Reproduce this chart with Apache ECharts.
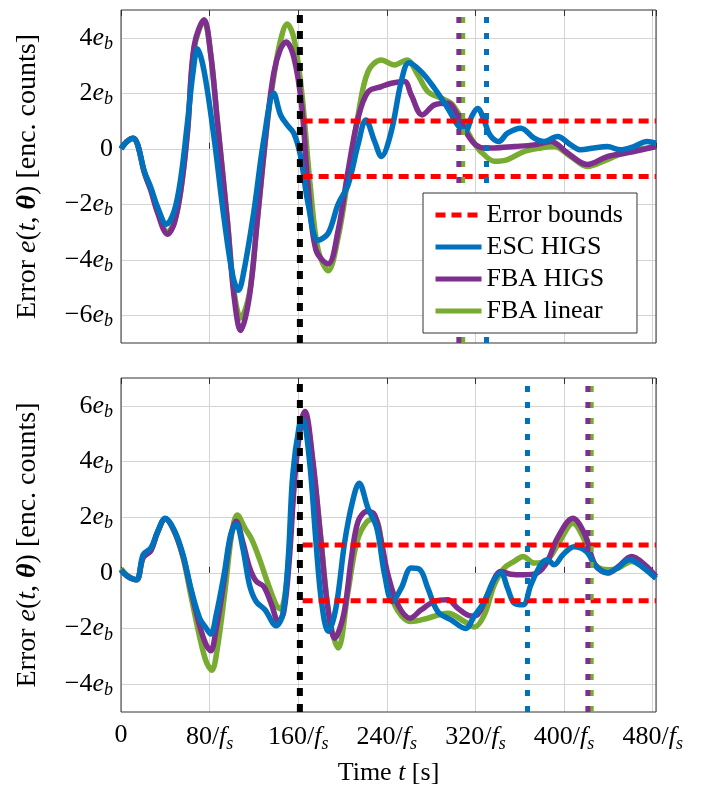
<!DOCTYPE html>
<html>
<head>
<meta charset="utf-8">
<script src="https://cdn.jsdelivr.net/npm/echarts@6/dist/echarts.min.js"></script>
<style>
  html, body { margin: 0; padding: 0; background: #fff; }
  #chart { width: 706px; height: 789px; }
</style>
</head>
<body>
<div id="chart"></div>
<script>
// x ticks (multiples of 80 samples), y ticks in units of e_b
var xTicks = [0, 80, 160, 240, 320, 400, 480];
var topYTicks = [-6, -4, -2, 0, 2, 4];
var bottomYTicks = [-4, -2, 0, 2, 4, 6];

// top panel: [t, error]
var topEsc = [[0,0],[5,0.25],[11,0.38],[15,0.15],[21,-0.8],[27,-1.4],[33,-2.1],[41,-2.72],[48,-2.25],[54,-1.05],[60,0.95],[65,2.75],[69,3.6],[75,2.8],[84,0.4],[93,-2.5],[101,-4.6],[106,-5.1],[111,-4.4],[120,-2.25],[129,0.35],[138,2.0],[144,1.22],[150,0.86],[156,0.56],[162,-0.25],[169,-2.0],[178,-3.3],[187,-3.05],[196,-2.0],[205,-1.3],[214,0.15],[221,1.04],[229,0.26],[235,-0.28],[244,0.62],[253,2.42],[260,3.1],[271,2.78],[283,2.18],[295,1.46],[305,0.8],[311,0.65],[317,1.2],[322,1.45],[328,1.0],[333,0.5],[341,0.26],[349,0.56],[361,0.74],[373,0.38],[382,0.26],[394,0.44],[406,0.14],[415,-0.04],[427,0.03],[439,0.08],[451,-0.04],[463,0.08],[475,0.26],[483,0.2]];
var topFbaHigs = [[0,0],[5,0.25],[11,0.38],[15,0.15],[21,-0.85],[27,-1.5],[33,-2.3],[42,-3.08],[48,-2.7],[54,-1.5],[60,0.6],[66,3.7],[75,4.65],[81,3.4],[87,1.0],[96,-2.6],[102,-5.3],[108,-6.55],[116,-5.3],[123,-2.6],[132,0.95],[138,2.75],[144,3.6],[149,3.85],[156,3.3],[163,1.6],[169,-1.4],[176,-3.65],[187,-4.15],[196,-2.95],[205,-0.8],[214,1.1],[223,2.05],[235,2.24],[244,2.36],[256,2.42],[262,1.94],[272,1.22],[283,1.58],[295,1.64],[304,1.2],[313,0.5],[320,0.15],[328,0.03],[337,0.03],[355,0.08],[373,0.14],[388,0.26],[403,-0.15],[421,-0.57],[439,-0.28],[457,-0.15],[483,0.08]];
var topFbaLinear = [[0,0],[5,0.25],[11,0.38],[15,0.15],[21,-0.85],[27,-1.5],[33,-2.25],[42,-3.0],[48,-2.65],[54,-1.5],[60,0.6],[66,3.6],[75,4.6],[81,3.4],[87,1.0],[96,-2.55],[102,-5.1],[108,-6.1],[116,-5.2],[123,-2.6],[132,0.9],[138,2.6],[144,3.9],[150,4.5],[156,4.0],[163,2.1],[171,-1.4],[178,-3.65],[187,-4.4],[196,-3.2],[205,-1.05],[214,1.2],[223,2.78],[235,3.2],[247,3.02],[258,3.2],[268,2.66],[277,2.06],[289,1.82],[298,1.64],[307,1.1],[316,0.38],[322,0.03],[326,-0.15],[337,-0.45],[349,-0.39],[364,-0.1],[379,0.03],[391,0.08],[406,-0.28],[421,-0.64],[439,-0.39],[454,-0.15],[483,0.08]];

// bottom panel: [t, error]
var bottomEsc = [[0,0.1],[6,-0.13],[14,-0.25],[20,0.65],[27,0.89],[33,1.48],[40,1.96],[48,1.54],[56,0.65],[63,-0.55],[71,-1.63],[77,-2.0],[81,-2.2],[86,-1.5],[93,-0.07],[99,1.36],[104,1.75],[110,0.89],[116,-0.43],[122,-1.03],[130,-1.33],[140,-1.9],[146,-1.5],[151,0.53],[155,3.5],[161,5.3],[164,5.5],[170,4.1],[176,1.12],[181,-1.03],[187,-2.1],[194,-1.27],[202,1.12],[209,2.56],[215,3.22],[223,2.32],[231,1.6],[238,-0.07],[245,-1.03],[253,-0.55],[262,0.17],[270,0.11],[277,-0.55],[286,-1.39],[298,-1.69],[311,-2.0],[319,-1.55],[328,-1.03],[336,-0.31],[343,0],[349,-0.55],[355,-1.09],[363,-1.15],[370,-0.43],[379,0.29],[385,0.47],[391,0.29],[399,0.65],[409,0.94],[420,0.77],[429,0.23],[439,0],[448,0.17],[459,0.47],[470,0.23],[483,-0.2]];
var bottomFbaHigs = [[0,0.1],[6,-0.13],[14,-0.25],[20,0.55],[27,0.8],[33,1.45],[40,1.94],[48,1.5],[56,0.6],[63,-0.6],[71,-1.9],[77,-2.6],[81,-2.8],[86,-2.0],[93,-0.3],[99,1.3],[104,1.85],[110,1.1],[116,0.2],[122,-0.3],[129,-0.5],[136,-1.15],[142,-1.75],[147,-1.4],[152,0.5],[157,3.5],[163,5.5],[166,5.8],[173,4.1],[180,1.36],[186,-1.03],[193,-2.35],[201,-1.51],[208,0.53],[214,1.84],[222,2.2],[229,2.08],[235,1.12],[241,-0.07],[250,-1.15],[261,-1.63],[271,-1.33],[283,-1.03],[295,-0.97],[304,-1.27],[316,-1.55],[322,-1.5],[331,-0.79],[343,0.05],[352,-0.05],[364,-0.07],[376,0],[385,0.41],[394,1.25],[408,1.96],[419,1.36],[428,0.29],[440,-0.01],[449,0.23],[461,0.59],[473,0.29],[483,-0.13]];
var bottomFbaLinear = [[0,0.15],[6,-0.1],[14,-0.25],[20,0.55],[27,0.8],[33,1.45],[40,1.94],[48,1.5],[56,0.55],[63,-0.8],[71,-2.3],[77,-3.2],[82,-3.5],[87,-2.7],[94,-0.6],[100,1.4],[105,2.08],[112,1.6],[118,1.2],[125,0.5],[132,-0.31],[140,-1.15],[144,-1.3],[149,-0.5],[154,2.0],[159,4.5],[163,5.4],[166,5.6],[173,4.0],[181,1.0],[188,-1.6],[196,-2.7],[205,-0.67],[213,1.12],[222,1.84],[229,1.95],[238,0.4],[247,-1.15],[262,-1.75],[277,-1.63],[295,-1.45],[310,-1.75],[319,-1.95],[328,-1.51],[337,-0.43],[346,0.17],[355,0.41],[363,0.59],[373,0.35],[385,0.47],[396,1.13],[408,1.78],[419,1.13],[428,0.29],[440,0.11],[449,0.17],[461,0.41],[473,0.17],[483,-0.13]];

// error bounds (+-e_b) from where they start to the end
var boundStart = 164;
var boundEnd = 483;
var boundLevels = [1, -1];

// vertical dotted markers (settling instants)
var topMarkers = { black: 161.5, fbaHigs: 305, fbaLinear: 308.5, esc: 330 };
var bottomMarkers = { black: 161.5, esc: 367, fbaHigs: 421.5, fbaLinear: 424.5 };

var topRange = [-7, 5];
var bottomRange = [-5, 7];
var xMax = 483;

var BLUE = '#0072BD', PURPLE = '#7E2F8E', GREEN = '#77AC30', RED = '#FF0000';
var FONT = 'Liberation Serif';

var chart = echarts.init(document.getElementById('chart'));

var rich = {
    n: { fontFamily: FONT, fontSize: 26, color: '#000' },
    e: { fontFamily: FONT, fontSize: 26, fontStyle: 'italic', color: '#000' },
    s: { fontFamily: FONT, fontSize: 18, fontStyle: 'italic', color: '#000', padding: [13, 0, 0, 0] }
};

function yLabel(v) {
    if (v === 0) return '{n|0}';
    if (v % 2 !== 0) return '';
    return '{n|' + (v < 0 ? '\u2212' : '') + Math.abs(v) + '}{e|e}{s|b}';
}
function xLabel(v) {
    if (v === 0) return '{n|0}';
    if (xTicks.indexOf(v) < 0) return '';
    return '{n|' + v + '/}{e|f}{s|s}';
}

function yAxisCfg(gi, range) {
    return {
        type: 'value', gridIndex: gi, min: range[0], max: range[1], interval: 1,
        axisLine: { show: false },
        axisTick: { show: false },
        splitLine: { show: true, lineStyle: { color: ['rgba(0,0,0,0)', '#d4d4d4'], width: 1 } },
        axisLabel: { formatter: yLabel, rich: rich, margin: 8 },
        name: 'Error {i|e}({i|t}, {b|\u03b8}) [enc. counts]',
        nameLocation: 'middle',
        nameGap: 79,
        nameTextStyle: {
            fontFamily: FONT, fontSize: 28, color: '#000',
            rich: {
                i: { fontFamily: FONT, fontSize: 28, fontStyle: 'italic', color: '#000' },
                b: { fontFamily: FONT, fontSize: 28, fontStyle: 'italic', fontWeight: 'bold', color: '#000' }
            }
        }
    };
}

function xAxisCfg(gi, labels, top) {
    var cfg = {
        type: 'value', gridIndex: gi, min: 0, max: xMax, interval: 80,
        position: top ? 'top' : 'bottom',
        axisLine: { show: false },
        axisTick: { show: true, inside: true, length: 6, lineStyle: { color: '#333' } },
        splitLine: { show: !top, lineStyle: { color: '#d4d4d4', width: 1 } },
        axisLabel: { show: labels, formatter: xLabel, rich: rich, margin: 10, showMaxLabel: false }
    };
    if (labels) {
        cfg.name = 'Time {i|t} [s]';
        cfg.nameLocation = 'middle';
        cfg.nameGap = 48;
        cfg.nameTextStyle = {
            fontFamily: FONT, fontSize: 26, color: '#000',
            rich: { i: { fontFamily: FONT, fontSize: 26, fontStyle: 'italic', color: '#000' } }
        };
    }
    return cfg;
}

function curve(name, data, color, ai) {
    return {
        name: name, type: 'line', xAxisIndex: ai, yAxisIndex: ai,
        data: data, smooth: 0.35, symbol: 'none', silent: true,
        lineStyle: { color: color, width: 5.5 }, itemStyle: { color: color }
    };
}

function bounds(ai) {
    return boundLevels.map(function (lvl) {
        return {
            name: 'Error bounds', type: 'line', xAxisIndex: ai, yAxisIndex: ai,
            data: [[boundStart, lvl], [boundEnd, lvl]], symbol: 'none', silent: true,
            lineStyle: { color: RED, width: 5, type: [10, 6] }, itemStyle: { color: RED }
        };
    });
}

function vline(t, range, color, width, dash, ai) {
    return {
        name: 'marker', type: 'line', xAxisIndex: ai, yAxisIndex: ai,
        data: [[t, range[0]], [t, range[1]]], symbol: 'none', silent: true,
        lineStyle: { color: color, width: width, type: dash }
    };
}

var series = [
    curve('FBA linear', topFbaLinear, GREEN, 0),
    curve('FBA HIGS', topFbaHigs, PURPLE, 0),
    curve('ESC HIGS', topEsc, BLUE, 0),
    curve('FBA linear', bottomFbaLinear, GREEN, 1),
    curve('FBA HIGS', bottomFbaHigs, PURPLE, 1),
    curve('ESC HIGS', bottomEsc, BLUE, 1)
].concat(bounds(0), bounds(1), [
    vline(topMarkers.black, topRange, '#000', 6, [8, 8], 0),
    vline(topMarkers.fbaLinear, topRange, GREEN, 5, [6, 10], 0),
    vline(topMarkers.fbaHigs, topRange, PURPLE, 5, [6, 10], 0),
    vline(topMarkers.esc, topRange, BLUE, 5, [6, 10], 0),
    vline(bottomMarkers.black, bottomRange, '#000', 6, [8, 8], 1),
    vline(bottomMarkers.esc, bottomRange, BLUE, 5, [6, 10], 1),
    vline(bottomMarkers.fbaLinear, bottomRange, GREEN, 5, [6, 10], 1),
    vline(bottomMarkers.fbaHigs, bottomRange, PURPLE, 5, [6, 10], 1)
]);

var option = {
    animation: false,
    backgroundColor: '#fff',
    grid: [
        { left: 121, top: 10, width: 535, height: 333, show: true, borderColor: '#333', borderWidth: 1, backgroundColor: 'transparent', z: 3, outerBoundsMode: 'none' },
        { left: 121, top: 378, width: 535, height: 334, show: true, borderColor: '#333', borderWidth: 1, backgroundColor: 'transparent', z: 3, outerBoundsMode: 'none' }
    ],
    xAxis: [xAxisCfg(0, false, false), xAxisCfg(1, true, false), xAxisCfg(0, false, true), xAxisCfg(1, false, true)],
    yAxis: [yAxisCfg(0, topRange), yAxisCfg(1, bottomRange)],
    legend: {
        data: ['Error bounds', 'ESC HIGS', 'FBA HIGS', 'FBA linear'],
        orient: 'vertical',
        left: 423, top: 193,
        backgroundColor: '#fff',
        borderColor: '#333', borderWidth: 1, borderRadius: 0,
        padding: [8, 14, 8, 10],
        itemWidth: 46, itemHeight: 14, itemGap: 4,
        selectedMode: false,
        itemStyle: { opacity: 0 },
        lineStyle: { width: 5 },
        textStyle: { fontFamily: FONT, fontSize: 26, color: '#000', lineHeight: 28 }
    },
    series: series
};

chart.setOption(option);
</script>
</body>
</html>
